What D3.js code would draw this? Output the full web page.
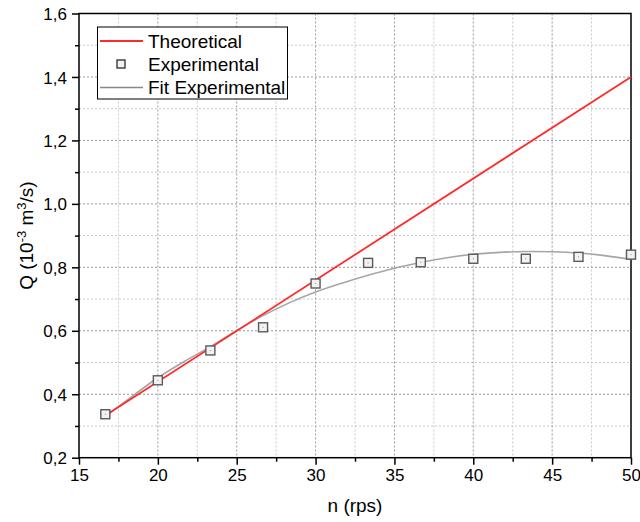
<!DOCTYPE html>
<html>
<head>
<meta charset="utf-8">
<script src="https://cdn.jsdelivr.net/npm/d3@7"></script>
<style>
  body { margin: 0; background: #fff; }
  text { font-family: "Liberation Sans", Arial, sans-serif; fill: #000; }
</style>
</head>
<body>
<script>
// data
var theoN = [16.67, 50];
var theoQ = [0.333, 1.40];

var expN = [16.67, 20, 23.33, 26.67, 30, 33.33, 36.67, 40, 43.33, 46.67, 50];
var expQ = [0.337, 0.444, 0.538, 0.611, 0.749, 0.814, 0.816, 0.827, 0.827, 0.833, 0.840];

var fitN = [16.67, 18.33, 20, 21.67, 23.33, 25, 26.67, 28.33, 30, 31.67, 33.33, 35, 36.67, 38.33, 40, 41.67, 43.33, 45, 46.67, 48.33, 50];
var fitQ = [0.330, 0.392, 0.452, 0.503, 0.550, 0.601, 0.648, 0.688, 0.722, 0.750, 0.775, 0.797, 0.815, 0.830, 0.841, 0.847, 0.850, 0.849, 0.845, 0.837, 0.825];

var xTicks = [15, 20, 25, 30, 35, 40, 45, 50];
var yTicks = [0.2, 0.4, 0.6, 0.8, 1.0, 1.2, 1.4, 1.6];

var legendItems = ["Theoretical", "Experimental", "Fit Experimental"];

var screen = {width: 640, height: 522};
var plot = {left: 79, right: 631, top: 13.5, bottom: 457.7};

var svg = d3.select("body")
            .append("svg")
            .attr("width", screen.width)
            .attr("height", screen.height);

var xScale = d3.scaleLinear()
               .domain([15, 50])
               .range([plot.left, plot.right]);

var yScale = d3.scaleLinear()
               .domain([0.2, 1.6])
               .range([plot.bottom, plot.top]);

var fmt = function(d) { return d3.format(".1f")(d).replace(".", ","); };

// minor grid
var xMinor = d3.range(17.5, 50, 5);
var yMinor = d3.range(0.3, 1.6, 0.2);

var grid = svg.append("g").attr("class", "grid");

grid.selectAll(".vminor")
    .data(xMinor)
    .enter().append("line")
    .attr("x1", function(d) { return xScale(d); })
    .attr("x2", function(d) { return xScale(d); })
    .attr("y1", plot.top).attr("y2", plot.bottom)
    .attr("stroke", "#c8c8c8").attr("stroke-dasharray", "2,2");

grid.selectAll(".hminor")
    .data(yMinor)
    .enter().append("line")
    .attr("y1", function(d) { return yScale(d); })
    .attr("y2", function(d) { return yScale(d); })
    .attr("x1", plot.left).attr("x2", plot.right)
    .attr("stroke", "#c8c8c8").attr("stroke-dasharray", "2,2");

grid.selectAll(".vmajor")
    .data(xTicks.slice(1, -1))
    .enter().append("line")
    .attr("x1", function(d) { return xScale(d); })
    .attr("x2", function(d) { return xScale(d); })
    .attr("y1", plot.top).attr("y2", plot.bottom)
    .attr("stroke", "#999").attr("stroke-dasharray", "2,2");

grid.selectAll(".hmajor")
    .data(yTicks.slice(1, -1))
    .enter().append("line")
    .attr("y1", function(d) { return yScale(d); })
    .attr("y2", function(d) { return yScale(d); })
    .attr("x1", plot.left).attr("x2", plot.right)
    .attr("stroke", "#999").attr("stroke-dasharray", "2,2");

// frame
svg.append("rect")
   .attr("x", plot.left).attr("y", plot.top)
   .attr("width", plot.right - plot.left)
   .attr("height", plot.bottom - plot.top)
   .attr("fill", "none")
   .attr("stroke", "#000")
   .attr("stroke-width", 1.5);

// axes
var xAxis = d3.axisBottom(xScale).tickValues(xTicks).tickSize(7).tickPadding(4);
var yAxis = d3.axisLeft(yScale).tickValues(yTicks).tickSize(7).tickPadding(5).tickFormat(fmt);

var gx = svg.append("g")
   .attr("transform", "translate(0," + plot.bottom + ")")
   .call(xAxis);
var gy = svg.append("g")
   .attr("transform", "translate(" + plot.left + ",0)")
   .call(yAxis);

svg.append("g")
   .attr("transform", "translate(0," + plot.bottom + ")")
   .call(d3.axisBottom(xScale).tickValues(xMinor).tickSize(4).tickFormat(""));
svg.append("g")
   .attr("transform", "translate(" + plot.left + ",0)")
   .call(d3.axisLeft(yScale).tickValues(yMinor).tickSize(4).tickFormat(""));

svg.selectAll(".domain").remove();
svg.selectAll(".tick line").attr("stroke", "#000").attr("stroke-width", 1.5);
gx.selectAll("text").style("font-size", "17px").attr("fill", "#000");
gy.selectAll("text").style("font-size", "17px").attr("fill", "#000").attr("dy", "0.36em");

// axis titles
svg.append("text")
   .attr("x", (plot.left + plot.right) / 2)
   .attr("y", 512)
   .attr("text-anchor", "middle")
   .style("font-size", "19px")
   .text("n (rps)");

var yTitle = svg.append("text")
   .attr("transform", "translate(33," + ((plot.top + plot.bottom) / 2) + ") rotate(-90)")
   .attr("text-anchor", "middle")
   .style("font-size", "19px");
yTitle.append("tspan").text("Q (10");
yTitle.append("tspan").attr("dy", -7).style("font-size", "13px").text("-3");
yTitle.append("tspan").attr("dy", 7).text(" m");
yTitle.append("tspan").attr("dy", -7).style("font-size", "13px").text("3");
yTitle.append("tspan").attr("dy", 7).text("/s)");

// series
var line = d3.line()
   .x(function(d) { return xScale(d[0]); })
   .y(function(d) { return yScale(d[1]); });

var fitData = d3.zip(fitN, fitQ);
var theoData = d3.zip(theoN, theoQ);
var expData = d3.zip(expN, expQ);

svg.append("path")
   .attr("d", line.curve(d3.curveCatmullRom)(fitData))
   .attr("fill", "none")
   .attr("stroke", "#a6a6a6")
   .attr("stroke-width", 1.6);

svg.append("path")
   .attr("d", line.curve(d3.curveLinear)(theoData))
   .attr("fill", "none")
   .attr("stroke", "#ff2b2b")
   .attr("stroke-width", 1.8);

var pts = svg.append("g").selectAll("g")
   .data(expData)
   .enter().append("g")
   .attr("transform", function(d) { return "translate(" + xScale(d[0]) + "," + yScale(d[1]) + ")"; });

pts.append("rect")
   .attr("x", -4.5).attr("y", -4.5)
   .attr("width", 9).attr("height", 9)
   .attr("fill", "#f2f2f2")
   .attr("stroke", "#5a5a5a")
   .attr("stroke-width", 1.4);
pts.append("rect")
   .attr("x", -0.5).attr("y", -0.5)
   .attr("width", 1).attr("height", 1)
   .attr("fill", "#888");

// legend
var legend = svg.append("g");
legend.append("rect")
   .attr("x", 97.5).attr("y", 27)
   .attr("width", 190).attr("height", 72)
   .attr("fill", "#fff")
   .attr("stroke", "#000")
   .attr("stroke-width", 1);

var rowY = [41, 64, 87.5];

legend.selectAll("text")
   .data(legendItems)
   .enter().append("text")
   .attr("x", 148)
   .attr("y", function(d, i) { return rowY[i]; })
   .attr("dy", "0.35em")
   .style("font-size", "19px")
   .text(function(d) { return d; });

legend.append("line")
   .attr("x1", 100).attr("x2", 143)
   .attr("y1", rowY[0]).attr("y2", rowY[0])
   .attr("stroke", "#ff2b2b").attr("stroke-width", 1.8);

legend.append("rect")
   .attr("x", 117).attr("y", rowY[1] - 4)
   .attr("width", 8).attr("height", 8)
   .attr("fill", "#f2f2f2")
   .attr("stroke", "#3a3a3a")
   .attr("stroke-width", 1.4);

legend.append("line")
   .attr("x1", 100).attr("x2", 143)
   .attr("y1", rowY[2]).attr("y2", rowY[2])
   .attr("stroke", "#888").attr("stroke-width", 1.6);
</script>
</body>
</html>
